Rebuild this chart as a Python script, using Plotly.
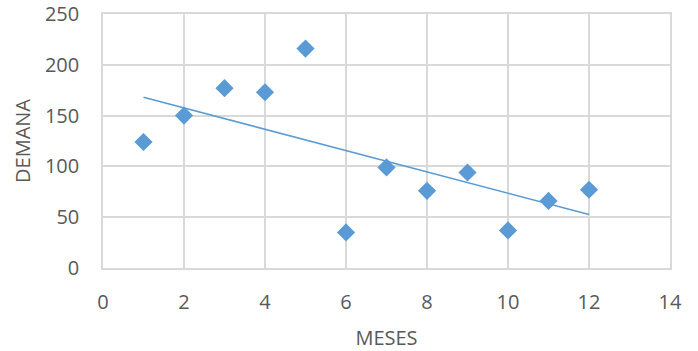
import numpy as np
import plotly.graph_objects as go

meses = [1, 2, 3, 4, 5, 6, 7, 8, 9, 10, 11, 12]
demanda = [124, 150, 177, 173, 216, 35, 99, 76, 94, 37, 66, 77]

x_ticks = [0, 2, 4, 6, 8, 10, 12, 14]
y_ticks = [0, 50, 100, 150, 200, 250]

color = "#5b9bd5"
grid = "#d9d9d9"
text_color = "#595959"
font_family = "Open Sans, Liberation Sans, sans-serif"

slope, intercept = np.polyfit(meses, demanda, 1)
trend_x = [meses[0], meses[-1]]
trend_y = [slope * v + intercept for v in trend_x]

fig = go.Figure()
fig.add_trace(go.Scatter(
    x=trend_x, y=trend_y, mode="lines",
    line=dict(color=color, width=1.6), hoverinfo="skip", showlegend=False,
))
fig.add_trace(go.Scatter(
    x=meses, y=demanda, mode="markers",
    marker=dict(symbol="diamond", size=14, color=color, line=dict(width=0)),
    showlegend=False,
))

fig.update_layout(
    width=698, height=351,
    margin=dict(l=103, r=28, t=14, b=83),
    paper_bgcolor="white", plot_bgcolor="white",
    font=dict(family=font_family, size=20, color=text_color),
    xaxis=dict(
        range=[0, 14], tickvals=x_ticks, ticktext=[str(v) for v in x_ticks],
        showgrid=True, gridcolor=grid, gridwidth=1.5,
        showline=True, linecolor=grid, linewidth=1.5, mirror=True,
        zeroline=False, ticks="", ticklabelstandoff=15, automargin=False,
        title=dict(text="MESES", standoff=17, font=dict(size=20, color=text_color)),
    ),
    yaxis=dict(
        range=[0, 250], tickvals=y_ticks, ticktext=[str(v) for v in y_ticks],
        showgrid=True, gridcolor=grid, gridwidth=1.5,
        showline=True, linecolor=grid, linewidth=1.5, mirror=True,
        zeroline=False, ticks="", ticklabelstandoff=18, automargin=False,
        title=dict(text="DEMANA", standoff=9, font=dict(size=20, color=text_color)),
    ),
)

# remove the default 8px page margin so the figure fills the window exactly
fig.write_html(
    "out.html",
    config={"displayModeBar": False},
    post_script="document.body.style.margin='0';document.body.style.overflow='hidden';",
)
